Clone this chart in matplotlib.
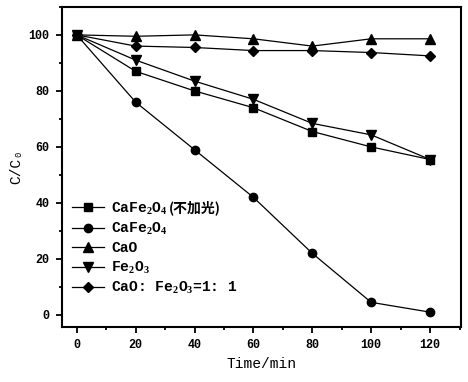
import matplotlib
matplotlib.use('Agg')
import matplotlib.pyplot as plt
from matplotlib.ticker import MultipleLocator

plt.rcParams['font.family'] = ['Liberation Mono', 'Noto Sans CJK SC']
plt.rcParams['font.weight'] = 'bold'
plt.rcParams['mathtext.fontset'] = 'custom'
plt.rcParams['mathtext.rm'] = 'Liberation Serif:bold'
plt.rcParams['mathtext.it'] = 'Liberation Serif:bold'
plt.rcParams['mathtext.bf'] = 'Liberation Serif:bold'
plt.rcParams['mathtext.default'] = 'rm'

# data
time = [0, 20, 40, 60, 80, 100, 120]
cafe_dark = [100, 87, 80, 74, 65.5, 60, 55.5]
cafe = [100, 76, 59, 42, 22, 4.5, 1]
cao = [100, 99.5, 100, 98.6, 96, 98.6, 98.6]
fe2o3 = [100, 91, 83.5, 77, 68.4, 64.3, 55.5]
mix = [100, 96, 95.5, 94.4, 94.4, 93.7, 92.5]

labels = ['CaFe$_2$O$_4$', 'CaFe$_2$O$_4$', 'CaO', 'Fe$_2$O$_3$',
          'CaO: Fe$_2$O$_3$=1: 1']
note = '(不加光)'

fig = plt.figure(figsize=(4.68, 3.82), dpi=100)
ax = fig.add_axes([0.1325, 0.144, 0.8525, 0.838])

ax.plot(time, cafe_dark, 'k-s', lw=0.9, ms=6, label=labels[0])
ax.plot(time, cafe, 'k-o', lw=0.9, ms=6, label=labels[1])
ax.plot(time, cao, 'k-^', lw=0.9, ms=7, label=labels[2])
ax.plot(time, fe2o3, 'k-v', lw=0.9, ms=7, label=labels[3])
ax.plot(time, mix, 'k-D', lw=0.9, ms=5.5, label=labels[4])

ax.set_xlim(-5, 130.5)
ax.set_ylim(-4.3, 110)
ax.xaxis.set_major_locator(MultipleLocator(20))
ax.xaxis.set_minor_locator(MultipleLocator(10))
ax.yaxis.set_major_locator(MultipleLocator(20))
ax.yaxis.set_minor_locator(MultipleLocator(10))
ax.tick_params(which='both', direction='out', width=1.3, labelsize=8.5)
ax.tick_params(which='major', length=4, pad=5)
ax.tick_params(which='minor', length=2.5)
for s in ax.spines.values():
    s.set_linewidth(1.5)

ax.set_xlabel('Time/min', fontsize=10.5)
ax.set_ylabel('C/C₀', fontsize=10.5, fontweight='normal')

leg = ax.legend(loc='upper left', bbox_to_anchor=(0.025, 0.395), frameon=False,
                fontsize=10.5, handlelength=2.2, labelspacing=0.3,
                borderaxespad=0, borderpad=0, handletextpad=0.5)

# 不加光 part goes after the first label (mathtext has no CJK glyphs)
fig.canvas.draw()
t0 = leg.get_texts()[0]
bb = t0.get_window_extent()
fig.text(bb.x1 + 1, (bb.y0 + bb.y1) / 2 + 1, note, transform=None,
         fontsize=10, va='center', ha='left', family='Noto Sans CJK SC',
         fontweight='bold')

fig.savefig('out.png', dpi=100)
